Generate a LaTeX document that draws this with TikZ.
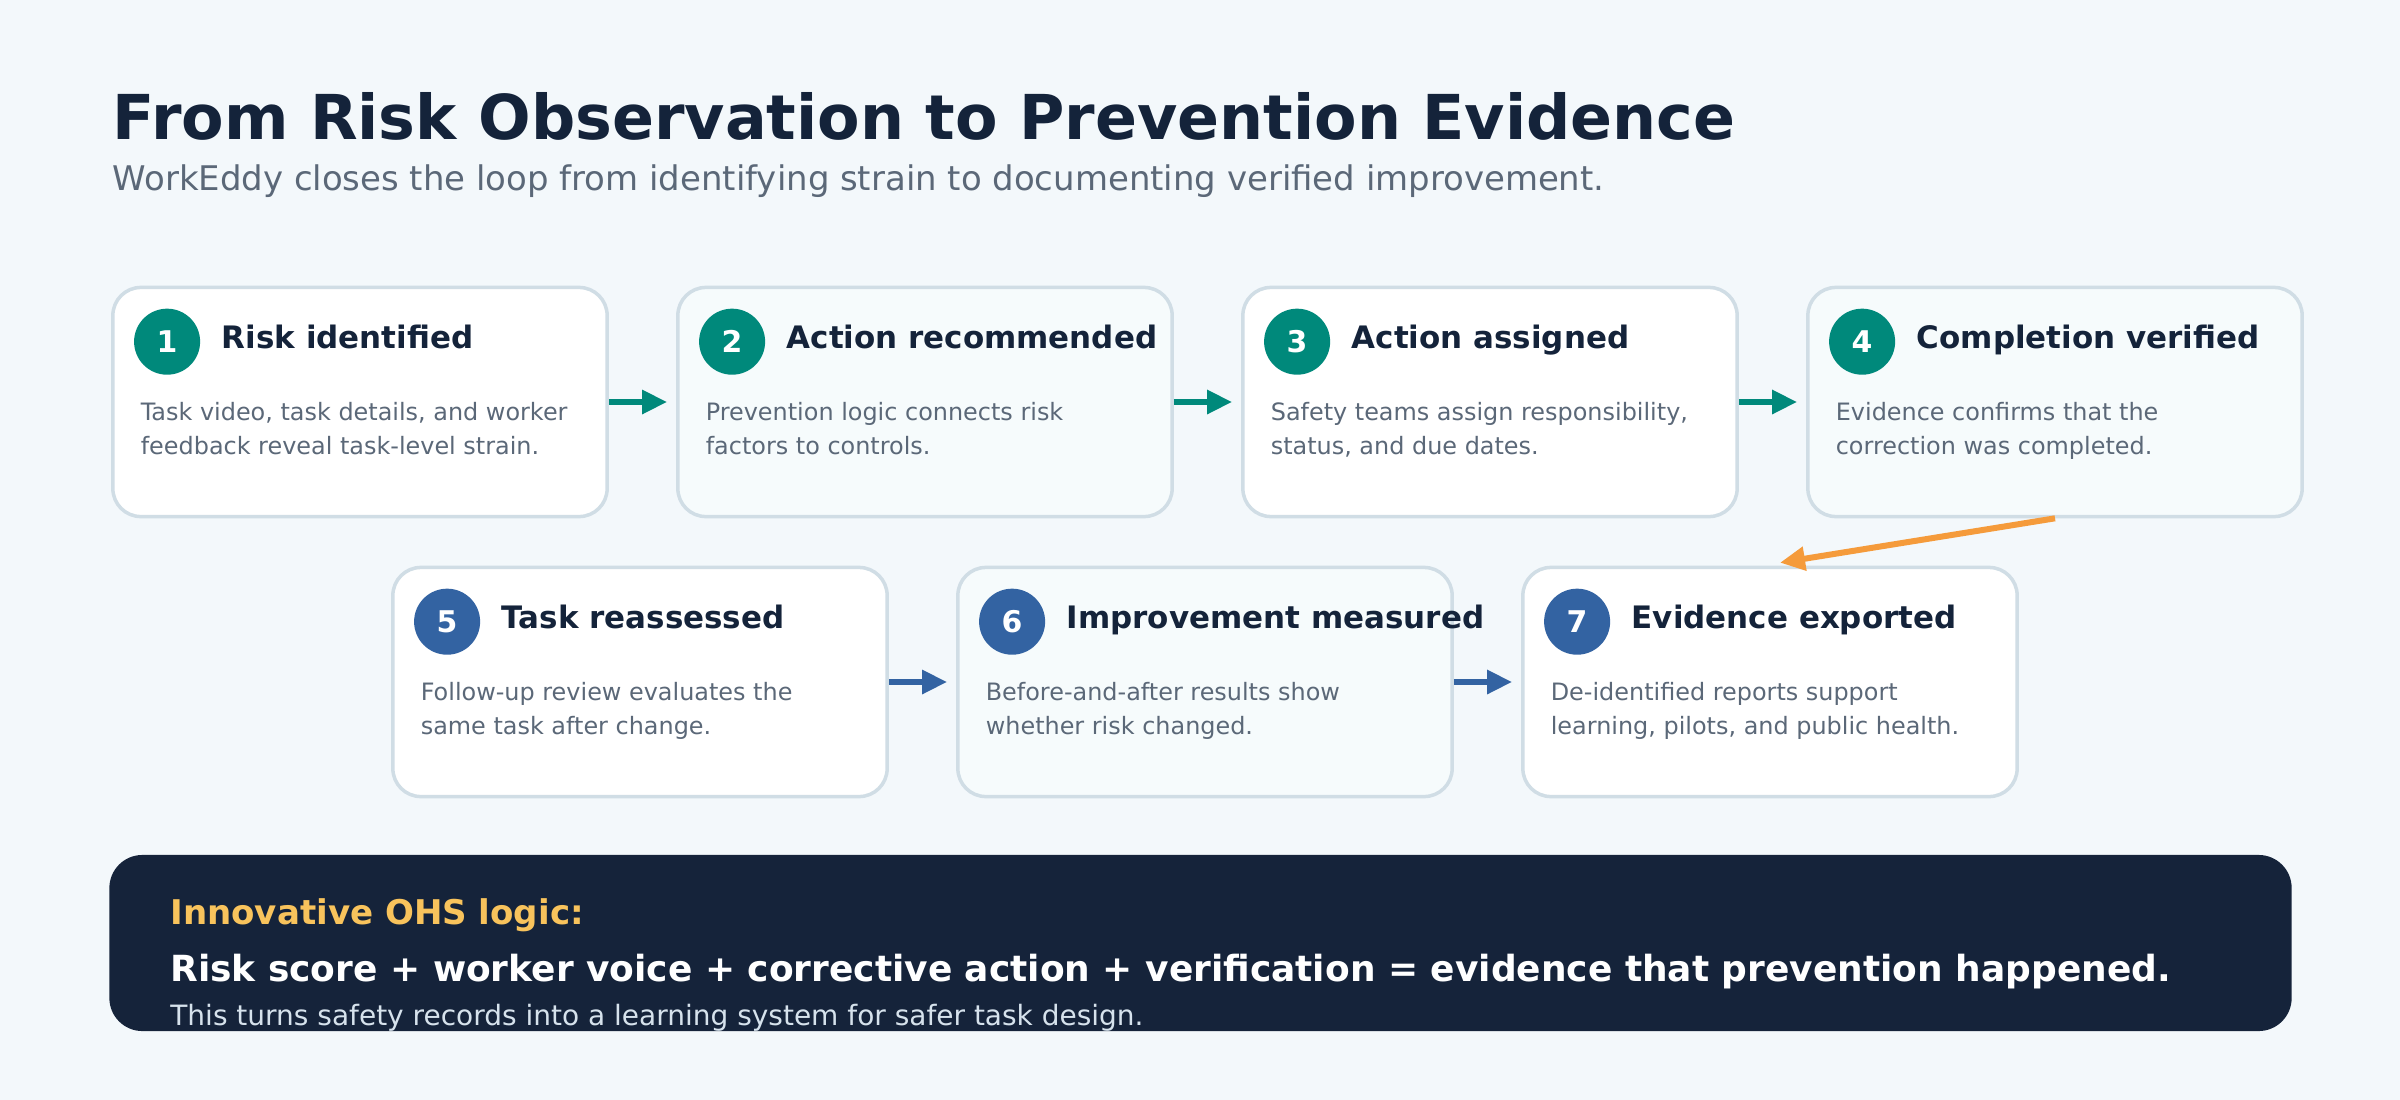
\documentclass[tikz,border=0pt]{standalone}
\usepackage{fontspec}
\setmainfont{DejaVu Sans}
\usetikzlibrary{calc, arrows.meta}

\definecolor{pagebg}{HTML}{F3F8FB}
\definecolor{inkdark}{HTML}{14233A}
\definecolor{inkgrey}{HTML}{5B6878}
\definecolor{cardline}{HTML}{D0DDE5}
\definecolor{cardtint}{HTML}{F6FBFC}
\definecolor{stepteal}{HTML}{00897B}
\definecolor{stepblue}{HTML}{3363A2}
\definecolor{looporange}{HTML}{F59B3B}
\definecolor{notebg}{HTML}{15233A}
\definecolor{noteyellow}{HTML}{F8C35C}
\definecolor{notepale}{HTML}{D6E2EC}

\begin{document}
\begin{tikzpicture}[x=0.01cm, y=-0.01cm,
  card/.style={draw=cardline, line width=0.035cm, rounded corners=0.28cm,
    minimum width=4.94cm, minimum height=2.29cm, inner sep=0},
  badge/.style={circle, minimum size=0.66cm, inner sep=0, text=white,
    font=\fontsize{8.5}{10}\selectfont\bfseries},
  cardhead/.style={anchor=base west, inner sep=0, text=inkdark,
    font=\fontsize{8.8}{10}\selectfont\bfseries},
  cardtext/.style={anchor=base west, inner sep=0, text=inkgrey,
    font=\fontsize{6.8}{8}\selectfont},
  flow/.style={-{Triangle[length=0.25cm, width=0.23cm]}, line width=0.06cm,
    shorten >=0.09cm}
]
\useasboundingbox (0,0) rectangle (2400,1100);
\fill[pagebg] (0,0) rectangle (2400,1100);

% HEADER
\node[anchor=base west, inner sep=0, text=inkdark,
  font=\fontsize{17.6}{21}\selectfont\bfseries] (title) at (112,139)
  {From Risk Observation to Prevention Evidence};
\node[anchor=base west, inner sep=0, text=inkgrey,
  font=\fontsize{9.65}{11}\selectfont] (subtitle) at (112,190)
  {WorkEddy closes the loop from identifying strain to documenting verified improvement.};

% STEP CARDS: top row 1-4 (teal), bottom row 5-7 (blue)
\foreach \i/\cx/\cy/\tint/\accent/\head/\lineA/\lineB in {
  1/360/402/white/stepteal/{Risk identified}/{Task video, task details, and worker}/{feedback reveal task-level strain.},
  2/925/402/cardtint/stepteal/{Action recommended}/{Prevention logic connects risk}/{factors to controls.},
  3/1490/402/white/stepteal/{Action assigned}/{Safety teams assign responsibility,}/{status, and due dates.},
  4/2055/402/cardtint/stepteal/{Completion verified}/{Evidence confirms that the}/{correction was completed.},
  5/640/682/white/stepblue/{Task reassessed}/{Follow-up review evaluates the}/{same task after change.},
  6/1205/682/cardtint/stepblue/{Improvement measured}/{Before-and-after results show}/{whether risk changed.},
  7/1770/682/white/stepblue/{Evidence exported}/{De-identified reports support}/{learning, pilots, and public health.}}{
  \node[card, fill=\tint] (c\i) at (\cx,\cy) {};
  \node[badge, fill=\accent] (b\i) at ($(c\i.north west)+(56,56)$) {\i};
  \node[cardhead] (h\i) at ($(c\i.north west)+(110,63)$) {\head};
  \node[cardtext] (t\i) at ($(c\i.north west)+(29,135)$) {\lineA};
  \node[cardtext] (u\i) at ($(c\i.north west)+(29,169)$) {\lineB};
}

% CONNECTORS
\foreach \a/\b in {1/2, 2/3, 3/4}
  \draw[flow, stepteal] (c\a.east) -- (c\b.west);
\foreach \a/\b in {5/6, 6/7}
  \draw[flow, stepblue] (c\a.east) -- (c\b.west);
\draw[flow, looporange, shorten >=0pt] (c4.south) -- ($(c7.north)+(10,-3)$);

% NOTE PANEL
\node[fill=notebg, rounded corners=0.33cm, minimum width=21.81cm,
  minimum height=1.76cm, inner sep=0] (note) at (1200.5,943) {};
\node[anchor=base west, inner sep=0, text=noteyellow,
  font=\fontsize{9.68}{11}\selectfont\bfseries] (notehead) at ($(note.north west)+(61,70)$)
  {Innovative OHS logic:};
\node[anchor=base west, inner sep=0, text=white,
  font=\fontsize{10.23}{12}\selectfont\bfseries] (noteline) at ($(note.north west)+(61,127)$)
  {Risk score + worker voice + corrective action + verification = evidence that prevention happened.};
\begin{scope}
  \clip[rounded corners=0.33cm] (note.north west) rectangle (note.south east);
  \node[anchor=base west, inner sep=0, text=notepale,
    font=\fontsize{7.96}{9}\selectfont] (notesub) at ($(note.north west)+(61,171)$)
    {This turns safety records into a learning system for safer task design.};
\end{scope}
\end{tikzpicture}
\end{document}
